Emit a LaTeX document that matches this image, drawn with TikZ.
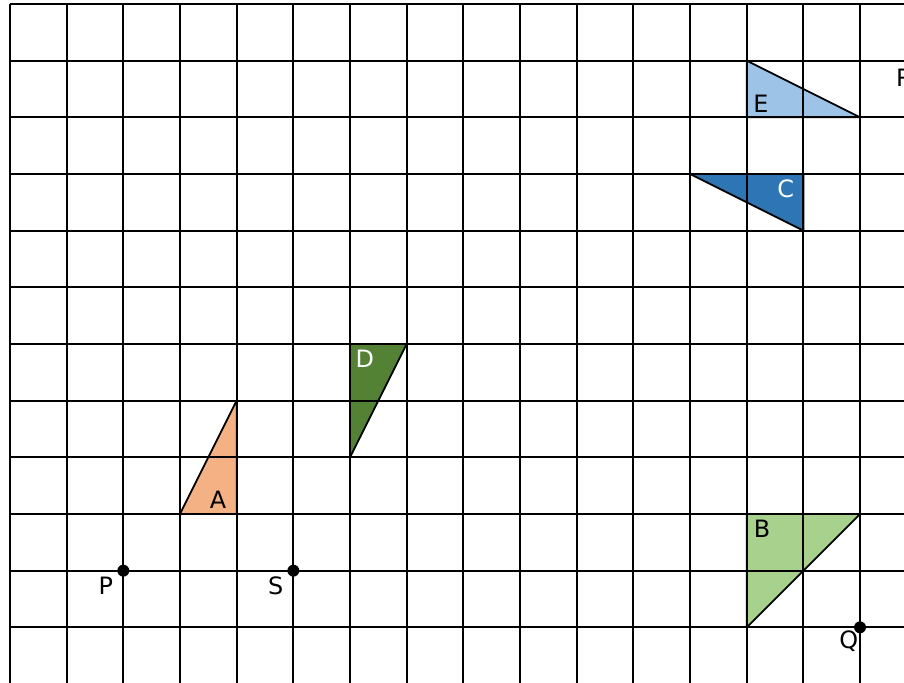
\documentclass[tikz,border=0pt]{standalone}
\usepackage{fontspec}
\setmainfont{DejaVu Sans}
\begin{document}
\begin{tikzpicture}[x=1cm,y=-1cm,
  gridline/.style={black,line width=0.9pt},
  tri/.style={draw=black,line width=0.9pt,line join=round},
  lbl/.style={font=\fontsize{12}{14}\selectfont,inner sep=0pt},
  dot/.style={circle,fill=black,inner sep=0pt,minimum size=6pt}]
\definecolor{ltblue}{HTML}{9DC3E6}
\definecolor{dkblue}{HTML}{2E75B6}
\definecolor{dkgreen}{HTML}{548235}
\definecolor{ltgreen}{HTML}{A9D18E}
\definecolor{orng}{HTML}{F4B183}
\useasboundingbox (-0.176,-0.07) rectangle (15.776,11.98);
\clip (-0.176,-0.07) rectangle (15.776,11.98);
% shapes
\filldraw[tri,fill=ltblue] (13,1) -- (13,2) -- (15,2) -- cycle;
\filldraw[tri,fill=dkblue] (12,3) -- (14,3) -- (14,4) -- cycle;
\filldraw[tri,fill=dkgreen] (6,6) -- (7,6) -- (6,8) -- cycle;
\filldraw[tri,fill=orng] (4,7) -- (4,9) -- (3,9) -- cycle;
\filldraw[tri,fill=ltgreen] (13,9) -- (15,9) -- (13,11) -- cycle;
% grid
\foreach \i in {0,...,16} \draw[gridline] (\i,0) -- (\i,12.2);
\foreach \j in {0,...,12} \draw[gridline] (0,\j) -- (16.2,\j);
% labels
\node[lbl] (E) at (13.25,1.76) {E};
\node[lbl,white] (C) at (13.69,3.26) {C};
\node[lbl,white] (D) at (6.26,6.26) {D};
\node[lbl] (A) at (3.67,8.75) {A};
\node[lbl] (B) at (13.27,9.26) {B};
\node[dot] (p) at (2,10) {};
\node[dot] (s) at (5,10) {};
\node[dot] (q) at (15,11) {};
\node[lbl] (P) at (1.69,10.26) {P};
\node[lbl] (S) at (4.69,10.26) {S};
\node[lbl] (Q) at (14.8,11.24) {Q};
\node[lbl,anchor=west] (R) at (15.63,1.3) {R};
\end{tikzpicture}
\end{document}
